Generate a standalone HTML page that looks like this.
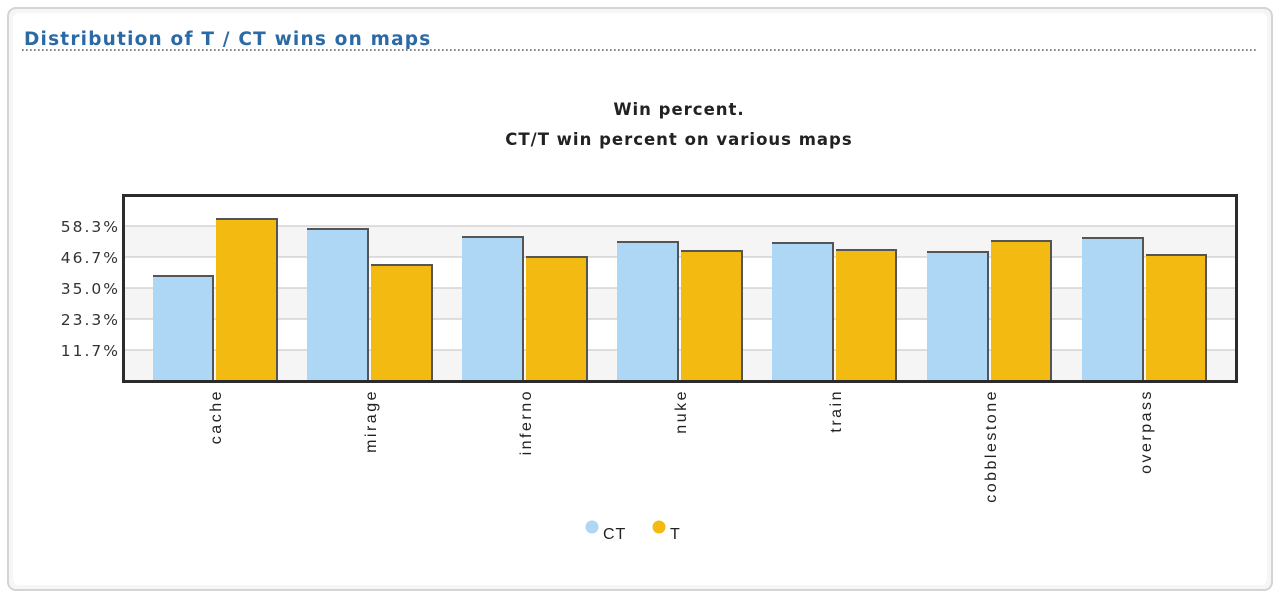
<!DOCTYPE html>
<html><head><meta charset="utf-8"><style>
html,body{margin:0;padding:0;background:#fff;width:1280px;height:600px;overflow:hidden}
.panel{position:absolute;left:7px;top:7px;width:1262px;height:580px;border:2px solid #d4d4d4;border-radius:9px;background:#f6f6f6}
.inner{position:absolute;left:4px;top:4px;right:4px;bottom:4px;background:#fff;border-radius:6px}
</style></head><body>
<div class="panel"><div class="inner"></div></div>
<svg width="1280" height="600" style="position:absolute;left:0;top:0" xmlns="http://www.w3.org/2000/svg">
<text x="24" y="45" font-family="DejaVu Sans, sans-serif" font-weight="bold" font-size="18.5" letter-spacing="1.2" fill="#2c6aa6">Distribution of T / CT wins on maps</text>
<line x1="22" y1="50" x2="1258" y2="50" stroke="#555" stroke-width="1.6" stroke-dasharray="1.6 2.4"/>
<text x="679" y="115" text-anchor="middle" font-family="DejaVu Sans, sans-serif" font-weight="bold" font-size="16.5" letter-spacing="1" fill="#222">Win percent.</text>
<text x="679" y="145" text-anchor="middle" font-family="DejaVu Sans, sans-serif" font-weight="bold" font-size="16.5" letter-spacing="1" fill="#222">CT/T win percent on various maps</text>
<rect x="124" y="226" width="1112" height="31" fill="#f5f5f5"/>
<rect x="124" y="288" width="1112" height="31" fill="#f5f5f5"/>
<rect x="124" y="350" width="1112" height="31" fill="#f5f5f5"/>
<g stroke="#ccc" stroke-width="1.2">
<line x1="124" y1="226" x2="1236" y2="226"/><line x1="124" y1="257" x2="1236" y2="257"/><line x1="124" y1="288" x2="1236" y2="288"/><line x1="124" y1="319" x2="1236" y2="319"/><line x1="124" y1="350" x2="1236" y2="350"/>
</g>
<g font-family="DejaVu Sans, sans-serif" font-size="15.5" letter-spacing="2" fill="#333" text-anchor="end">
<text x="120" y="232">58.3%</text><text x="120" y="263">46.7%</text><text x="120" y="294">35.0%</text><text x="120" y="325">23.3%</text><text x="120" y="356">11.7%</text>
</g>
<g>
<rect x="153" y="276" width="61" height="105" fill="#aed6f5"/><path d="M153 276H213V381" fill="none" stroke="#555" stroke-width="2"/>
<rect x="216" y="219" width="62" height="162" fill="#f3bb11"/><path d="M216 219H277V381" fill="none" stroke="#555" stroke-width="2"/>
<rect x="307" y="229" width="62" height="152" fill="#aed6f5"/><path d="M307 229H368V381" fill="none" stroke="#555" stroke-width="2"/>
<rect x="371" y="265" width="62" height="116" fill="#f3bb11"/><path d="M371 265H432V381" fill="none" stroke="#555" stroke-width="2"/>
<rect x="462" y="237" width="62" height="144" fill="#aed6f5"/><path d="M462 237H523V381" fill="none" stroke="#555" stroke-width="2"/>
<rect x="526" y="257" width="62" height="124" fill="#f3bb11"/><path d="M526 257H587V381" fill="none" stroke="#555" stroke-width="2"/>
<rect x="617" y="242" width="62" height="139" fill="#aed6f5"/><path d="M617 242H678V381" fill="none" stroke="#555" stroke-width="2"/>
<rect x="681" y="251" width="62" height="130" fill="#f3bb11"/><path d="M681 251H742V381" fill="none" stroke="#555" stroke-width="2"/>
<rect x="772" y="243" width="62" height="138" fill="#aed6f5"/><path d="M772 243H833V381" fill="none" stroke="#555" stroke-width="2"/>
<rect x="836" y="250" width="61" height="131" fill="#f3bb11"/><path d="M836 250H896V381" fill="none" stroke="#555" stroke-width="2"/>
<rect x="927" y="252" width="62" height="129" fill="#aed6f5"/><path d="M927 252H988V381" fill="none" stroke="#555" stroke-width="2"/>
<rect x="991" y="241" width="61" height="140" fill="#f3bb11"/><path d="M991 241H1051V381" fill="none" stroke="#555" stroke-width="2"/>
<rect x="1082" y="238" width="62" height="143" fill="#aed6f5"/><path d="M1082 238H1143V381" fill="none" stroke="#555" stroke-width="2"/>
<rect x="1146" y="255" width="61" height="126" fill="#f3bb11"/><path d="M1146 255H1206V381" fill="none" stroke="#555" stroke-width="2"/>
</g>
<rect x="123.5" y="195.5" width="1113" height="186" fill="none" stroke="#2b2b2b" stroke-width="3"/>
<g font-family="Liberation Sans, sans-serif" font-size="16" letter-spacing="2.5" fill="#222" text-anchor="end">
<text transform="translate(221,389) rotate(-90)">cache</text>
<text transform="translate(376,389) rotate(-90)">mirage</text>
<text transform="translate(531,389) rotate(-90)">inferno</text>
<text transform="translate(686,389) rotate(-90)">nuke</text>
<text transform="translate(841,389) rotate(-90)">train</text>
<text transform="translate(996,389) rotate(-90)">cobblestone</text>
<text transform="translate(1151,389) rotate(-90)">overpass</text>
</g>
<circle cx="592" cy="527" r="6.5" fill="#aed6f5"/>
<text x="603" y="539" font-family="Liberation Sans, sans-serif" font-size="16" letter-spacing="1" fill="#222">CT</text>
<circle cx="659" cy="527" r="6.5" fill="#f3bb11"/>
<text x="670" y="539" font-family="Liberation Sans, sans-serif" font-size="16" fill="#222">T</text>
</svg>
</body></html>
